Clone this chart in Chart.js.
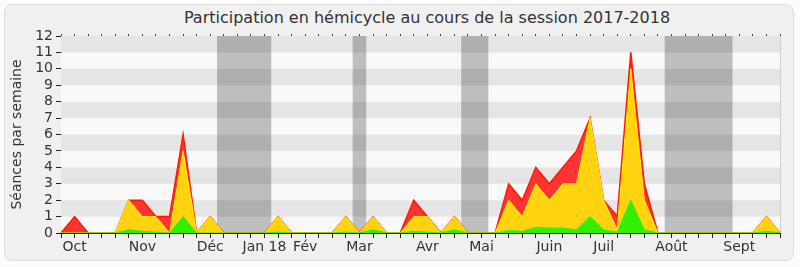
<!DOCTYPE html>
<html>
<head>
<meta charset="utf-8">
<script src="https://cdn.jsdelivr.net/npm/chart.js@4"></script>
<style>
  html, body { margin: 0; padding: 0; background: #fcfcfc; }
  #wrap { position: relative; width: 800px; height: 267px; }
  #frame { position: absolute; left: 4px; top: 4px; width: 788px; height: 255px;
           border: 1px solid #dcdcdc; border-radius: 8px; background: #f0f0f0; }
  #title { position: absolute; left: 127px; width: 600px; top: 8px; line-height: 20px;
           text-align: center; font: 16px 'DejaVu Sans', Verdana, sans-serif; color: #333;
           white-space: nowrap; }
  canvas { position: absolute; left: 0; top: 0; }
</style>
</head>
<body>
<div id="wrap">
  <div id="frame"></div>
  <div id="title">Participation en hémicycle au cours de la session 2017-2018</div>
  <canvas id="chart" width="800" height="267"></canvas>
</div>
<script>
// Semaines de la session (54 points hebdomadaires)
const weeks = Array.from({ length: 54 }, (_, i) => i);

// Libellés des mois et semaine où ils s'affichent
const monthNames = ['Oct', 'Nov', 'Déc', 'Jan 18', 'Fév', 'Mar', 'Avr', 'Mai', 'Juin', 'Juil', 'Août', 'Sept'];
const monthWeeks = [1, 6, 11, 15, 18, 22, 27, 31, 36, 40, 45, 50];

// Vacances parlementaires (première et dernière semaine)
const holidayStart = [12, 22, 30, 45];
const holidayEnd = [15, 22, 31, 49];

// Valeurs par couche (empilées) : vert, jaune, rouge
const greenValues = [
  0, 0, 0, 0, 0, 0.2, 0.1, 0.05, 0, 1,
  0, 0, 0, 0, 0, 0, 0.05, 0, 0, 0,
  0, 0.05, 0, 0.2, 0, 0, 0.1, 0.05, 0, 0.2,
  0, 0, 0, 0.15, 0.1, 0.35, 0.3, 0.3, 0.2, 1,
  0.2, 0.05, 2, 0.2, 0, 0, 0, 0, 0, 0,
  0, 0, 0.1, 0
];
const yellowValues = [
  0, 0, 0, 0, 0, 1.8, 0.9, 0.95, 0, 4,
  0, 1, 0, 0, 0, 0, 0.95, 0, 0, 0,
  0, 0.95, 0, 0.8, 0, 0, 0.9, 0.95, 0, 0.8,
  0, 0, 0, 1.85, 0.9, 2.65, 1.7, 2.7, 2.8, 6,
  1.8, 0.15, 8, 1.8, 0, 0, 0, 0, 0, 0,
  0, 0, 0.9, 0
];
const redValues = [
  0, 1, 0, 0, 0, 0, 1, 0, 1, 1,
  0, 0, 0, 0, 0, 0, 0, 0, 0, 0,
  0, 0, 0, 0, 0, 0, 1, 0, 0, 0,
  0, 0, 0, 1, 1, 1, 1, 1, 2, 0,
  0, 0.8, 1, 1, 0, 0, 0, 0, 0, 0,
  0, 0, 0, 0
];

const yTicks = [0, 12];

const labels = weeks.map(w => {
  const k = monthWeeks.indexOf(w);
  return k >= 0 ? monthNames[k] : '';
});

const fontFamily = "'DejaVu Sans', Verdana, sans-serif";

// Fond rayé et bandes grises des vacances
const backdrop = {
  id: 'backdrop',
  beforeDatasetsDraw(chart) {
    const { ctx, chartArea: a, scales: { x, y } } = chart;
    ctx.save();
    for (let k = yTicks[0]; k < yTicks[1]; k++) {
      ctx.fillStyle = k % 2 ? '#e5e5e5' : '#f9f9f9';
      const top = y.getPixelForValue(k + 1);
      const bot = y.getPixelForValue(k);
      ctx.fillRect(a.left, top, a.right - a.left, bot - top);
    }
    const half = (x.getPixelForValue(1) - x.getPixelForValue(0)) / 2;
    ctx.fillStyle = 'rgba(0,0,0,0.235)';
    holidayStart.forEach((s, i) => {
      const x0 = x.getPixelForValue(s) - half;
      const x1 = x.getPixelForValue(holidayEnd[i]) + half;
      ctx.fillRect(x0, a.top, x1 - x0, a.bottom - a.top);
    });
    ctx.strokeStyle = '#d0d0d0';
    ctx.lineWidth = 1;
    ctx.beginPath();
    ctx.moveTo(a.right + 0.5, a.top);
    ctx.lineTo(a.right + 0.5, a.bottom);
    ctx.stroke();
    ctx.restore();
  }
};

new Chart(document.getElementById('chart'), {
  type: 'line',
  data: {
    labels: labels,
    datasets: [
      {
        data: greenValues,
        backgroundColor: '#33ee00',
        borderColor: '#33ee00',
        borderWidth: 1,
        fill: 'origin'
      },
      {
        data: yellowValues,
        backgroundColor: '#ffd30f',
        borderColor: '#ffee00',
        borderWidth: 1,
        fill: '-1'
      },
      {
        data: redValues,
        backgroundColor: '#ff3333',
        borderColor: '#ff1a00',
        borderWidth: 1.5,
        fill: '-1'
      }
    ]
  },
  options: {
    responsive: false,
    animation: false,
    events: [],
    elements: { point: { radius: 0 }, line: { tension: 0 } },
    layout: { padding: { left: 9, right: 20, top: 34, bottom: 0 } },
    plugins: {
      legend: { display: false },
      tooltip: { enabled: false }
    },
    scales: {
      x: {
        type: 'category',
        offset: false,
        grid: { drawOnChartArea: false, tickLength: 5, color: '#222' },
        border: { color: '#222', width: 1 },
        ticks: {
          autoSkip: false,
          maxRotation: 0,
          padding: 1,
          color: '#333',
          font: { family: fontFamily, size: 14 }
        },
        afterFit(s) { s.height = 34; }
      },
      x2: {
        type: 'category',
        position: 'top',
        offset: false,
        grid: { drawOnChartArea: false, tickLength: 2, color: '#444' },
        border: { display: false },
        ticks: { display: false },
        afterFit(s) { s.height = 2; }
      },
      y: {
        stacked: true,
        min: yTicks[0],
        max: yTicks[1],
        grid: { drawOnChartArea: false, tickLength: 5, color: '#222' },
        border: { color: '#222', width: 1 },
        ticks: {
          stepSize: 1,
          autoSkip: false,
          padding: 3,
          color: '#333',
          font: { family: fontFamily, size: 14 }
        },
        title: {
          display: true,
          text: 'Séances par semaine',
          color: '#333',
          font: { family: fontFamily, size: 14 },
          padding: { top: 0, bottom: 3 }
        },
        afterFit(s) { s.width = 52; }
      }
    }
  },
  plugins: [backdrop]
});
</script>
</body>
</html>
